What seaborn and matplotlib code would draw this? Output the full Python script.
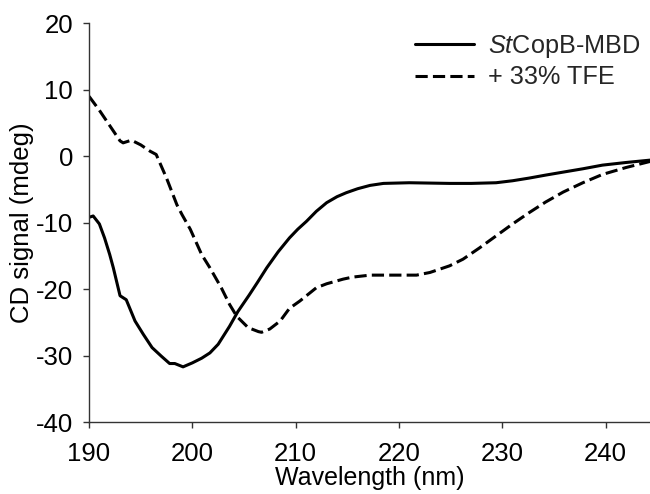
import numpy as np
import pandas as pd
import seaborn as sns
import matplotlib
matplotlib.use("Agg")
import matplotlib.pyplot as plt

# Data
wl_native = [190.0, 190.4, 191.0, 191.5, 192.0, 192.35, 193.0, 193.6, 194.45, 195.25, 196.1, 197.0,
             197.8, 198.3, 199.1, 200.0, 200.9, 201.7, 202.5, 203.6, 204.4, 205.5, 206.3, 207.2,
             208.3, 209.4, 210.2, 211.05, 212.0, 213.0, 214.0, 214.9, 216.0, 217.2, 218.5, 221.0,
             224.9, 227.0, 229.4, 231.0, 232.6, 234.2, 235.9, 237.8, 239.7, 242.0, 244.3]
cd_native = [-9.2, -9.0, -10.2, -12.3, -14.8, -16.8, -21.0, -21.6, -24.8, -26.8, -28.8, -30.1,
             -31.2, -31.2, -31.7, -31.1, -30.4, -29.6, -28.3, -25.6, -23.4, -20.9, -19.0, -16.8,
             -14.4, -12.3, -11.0, -9.8, -8.3, -7.0, -6.1, -5.5, -4.9, -4.4, -4.1, -4.0,
             -4.1, -4.1, -4.0, -3.7, -3.3, -2.85, -2.4, -1.9, -1.35, -0.95, -0.6]

wl_tfe = [190.0, 191.0, 192.0, 193.0, 193.3, 194.1, 195.0, 195.9, 196.5, 197.5, 198.5, 199.0,
          199.8, 200.9, 201.7, 202.8, 203.6, 204.3, 205.4, 206.4, 206.7, 207.5, 208.5, 209.4,
          210.4, 212.0, 213.0, 214.6, 215.5, 217.2, 219.5, 221.7, 223.0, 224.9, 226.2, 227.8,
          229.4, 231.0, 232.6, 234.2, 235.9, 237.8, 239.7, 242.0, 244.3]
cd_tfe = [9.0, 6.9, 4.6, 2.3, 2.0, 2.4, 1.7, 0.75, 0.25, -3.3, -7.3, -8.8,
          -11.0, -14.8, -16.8, -19.8, -22.3, -24.1, -25.8, -26.4, -26.5, -26.0, -24.8, -22.9,
          -21.8, -19.8, -19.2, -18.5, -18.2, -17.9, -17.9, -17.9, -17.5, -16.5, -15.5, -13.8,
          -12.0, -10.2, -8.5, -6.9, -5.4, -4.0, -2.75, -1.7, -0.8]

label_native = r"$\it{St}$CopB-MBD"
label_tfe = "+ 33% TFE"

x_ticks = [190, 200, 210, 220, 230, 240]
y_ticks = [-40, -30, -20, -10, 0, 10, 20]

df = pd.concat([
    pd.DataFrame({"Wavelength": wl_native, "CD": cd_native, "Sample": label_native}),
    pd.DataFrame({"Wavelength": wl_tfe, "CD": cd_tfe, "Sample": label_tfe}),
], ignore_index=True)

sns.set_theme(style="ticks")
plt.rcParams["font.family"] = ["Liberation Sans", "DejaVu Sans"]
plt.rcParams["mathtext.fontset"] = "custom"
plt.rcParams["mathtext.it"] = "Liberation Sans:italic"
plt.rcParams["mathtext.rm"] = "Liberation Sans"
plt.rcParams["axes.unicode_minus"] = False

fig = plt.figure(figsize=(6.5, 4.94), dpi=100)
ax = fig.add_axes([0.137, 0.1457, 0.863, 0.8073])

sns.lineplot(data=df, x="Wavelength", y="CD", style="Sample", color="black",
             dashes={label_native: "", label_tfe: (4, 1.7)}, linewidth=2.2,
             ax=ax, sort=True, estimator=None)

ax.set_xlim(190, 244.3)
ax.set_ylim(-40, 20)
ax.set_xticks(x_ticks)
ax.set_yticks(y_ticks)
ax.tick_params(axis="both", labelsize=18.5, length=4.5, width=1, color="#333333",
               direction="out", labelcolor="black")
ax.tick_params(axis="y", pad=7)
ax.tick_params(axis="x", pad=10)
ax.set_xlabel("Wavelength (nm)", fontsize=18, labelpad=0, color="black")
ax.set_ylabel("CD signal (mdeg)", fontsize=18.5, labelpad=1, color="black")
for s in ["top", "right"]:
    ax.spines[s].set_visible(False)
for s in ["left", "bottom"]:
    ax.spines[s].set_color("#333333")
    ax.spines[s].set_linewidth(1)

leg = ax.legend(loc="upper right", frameon=False, fontsize=18.2, handlelength=2.3,
                bbox_to_anchor=(1.0, 1.0), labelspacing=0.2, handletextpad=0.55,
                borderaxespad=0.0)

fig.savefig("out.png", dpi=100)
